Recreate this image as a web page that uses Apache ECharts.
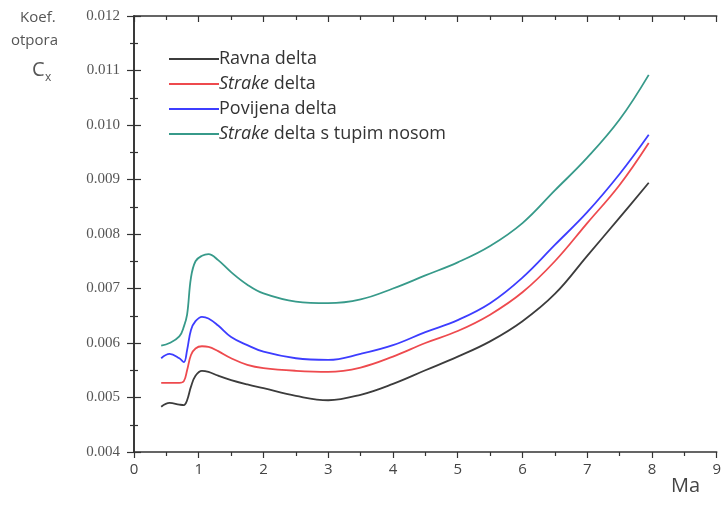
<!DOCTYPE html>
<html>
<head>
<meta charset="utf-8">
<script src="https://cdn.jsdelivr.net/npm/echarts@6/dist/echarts.min.js"></script>
<style>
  html, body { margin: 0; padding: 0; background: #fff; }
  #chart { width: 724px; height: 515px; }
</style>
</head>
<body>
<div id="chart"></div>
<script>
// Machov broj (os x)
var mach = [0.42, 0.55, 0.7, 0.77, 0.82, 0.88, 0.95, 1.05, 1.15, 1.3, 1.5, 1.75, 2.0, 2.5, 3.0, 3.5, 4.0, 4.5, 5.0, 5.5, 6.0, 6.5, 7.0, 7.5, 7.95];

// koeficijent otpora Cx za svaku konfiguraciju
var ravna    = [0.00483, 0.0049, 0.00487, 0.00486, 0.00495, 0.0052, 0.0054, 0.00549, 0.00547, 0.0054, 0.00532, 0.00524, 0.00517, 0.00503, 0.00495, 0.00505, 0.00525, 0.0055, 0.00575, 0.00603, 0.0064, 0.0069, 0.0076, 0.0083, 0.00894];
var strake   = [0.00527, 0.00527, 0.00527, 0.0053, 0.0055, 0.00578, 0.0059, 0.00594, 0.00593, 0.00585, 0.00572, 0.0056, 0.00554, 0.00549, 0.00547, 0.00555, 0.00575, 0.006, 0.00622, 0.00652, 0.00693, 0.0075, 0.0082, 0.0089, 0.00967];
var povijena = [0.00572, 0.0058, 0.00572, 0.00565, 0.00587, 0.00624, 0.0064, 0.00648, 0.00645, 0.00632, 0.00611, 0.00596, 0.00584, 0.00572, 0.00569, 0.0058, 0.00596, 0.0062, 0.00642, 0.00673, 0.0072, 0.0078, 0.0084, 0.0091, 0.00982];
var tupiNos  = [0.00595, 0.006, 0.00612, 0.0063, 0.00652, 0.0072, 0.0075, 0.0076, 0.00763, 0.00752, 0.0073, 0.00707, 0.00691, 0.00676, 0.00673, 0.0068, 0.007, 0.00724, 0.00748, 0.00778, 0.0082, 0.0088, 0.0094, 0.0101, 0.01092];

var names = ['Ravna delta', 'Strake delta', 'Povijena delta', 'Strake delta s tupim nosom'];
var colors = ['#3c3c3c', '#ee4a4e', '#3d3dff', '#379a8a'];

function pairs(ys) {
    return mach.map(function (m, i) { return [m, ys[i]]; });
}

var myChart = echarts.init(document.getElementById('chart'));

var axisLine = { lineStyle: { color: '#333', width: 1.6 } };
var tickStyle = { color: '#333', width: 1.2 };

var option = {
    animation: false,
    grid: { left: 134, right: 0, top: 16, bottom: 63 },
    legend: {
        orient: 'vertical',
        left: 164,
        top: 45,
        itemWidth: 50,
        itemHeight: 2,
        itemGap: 7,
        icon: 'rect',
        data: names,
        textStyle: {
            fontFamily: 'Open Sans',
            fontSize: 18,
            color: '#333',
            padding: [0, 0, 0, -5],
            rich: {
                i: { fontFamily: 'Open Sans', fontSize: 18, fontStyle: 'italic', color: '#333' }
            }
        },
        formatter: function (n) {
            if (n.indexOf('Strake') === 0) {
                return '{i|Strake}' + n.slice(6);
            }
            return n;
        }
    },
    xAxis: [{
        type: 'value',
        min: 0, max: 9, interval: 1,
        axisLine: axisLine,
        axisTick: { length: 6, lineStyle: tickStyle },
        minorTick: { show: true, splitNumber: 2, length: 4, lineStyle: tickStyle },
        splitLine: { show: false },
        axisLabel: { fontFamily: 'Open Sans', fontSize: 15, color: '#444', margin: 10 }
    }, {
        type: 'value', position: 'top',
        min: 0, max: 9, interval: 1,
        axisLine: axisLine,
        axisTick: { inside: true, length: 6, lineStyle: tickStyle },
        minorTick: { show: true, splitNumber: 2, length: 4, lineStyle: tickStyle },
        splitLine: { show: false },
        axisLabel: { show: false }
    }],
    yAxis: [{
        type: 'value',
        min: 0.004, max: 0.012, interval: 0.001,
        axisLine: axisLine,
        axisTick: { length: 7, lineStyle: tickStyle },
        minorTick: { show: true, splitNumber: 2, length: 4, lineStyle: tickStyle },
        splitLine: { show: false },
        axisLabel: {
            fontFamily: 'Liberation Serif', fontSize: 15, color: '#555', margin: 14,
            formatter: function (v) { return v.toFixed(3); }
        }
    }, {
        type: 'value', position: 'right',
        min: 0.004, max: 0.012, interval: 0.001,
        axisLine: axisLine,
        axisTick: { length: 7, lineStyle: tickStyle },
        minorTick: { show: true, splitNumber: 2, length: 4, lineStyle: tickStyle },
        splitLine: { show: false },
        axisLabel: { show: false }
    }],
    graphic: [
        { type: 'text', left: 20, top: 10, style: { text: 'Koef.', font: '15px "Open Sans"', fill: '#555' } },
        { type: 'text', left: 11, top: 33, style: { text: 'otpora', font: '15px "Open Sans"', fill: '#555' } },
        { type: 'text', left: 32, top: 60, style: { text: 'C', font: '20px "Open Sans"', fill: '#555' } },
        { type: 'text', left: 45, top: 72, style: { text: 'x', font: '12px "Open Sans"', fill: '#555' } },
        { type: 'text', left: 671, top: 476, style: { text: 'Ma', font: '20px "Open Sans"', fill: '#444' } }
    ],
    series: [ravna, strake, povijena, tupiNos].map(function (ys, i) {
        return {
            name: names[i],
            type: 'line',
            data: pairs(ys),
            smooth: 0.4,
            showSymbol: false,
            lineStyle: { color: colors[i], width: 1.8 },
            itemStyle: { color: colors[i] }
        };
    })
};

myChart.setOption(option);
</script>
</body>
</html>
